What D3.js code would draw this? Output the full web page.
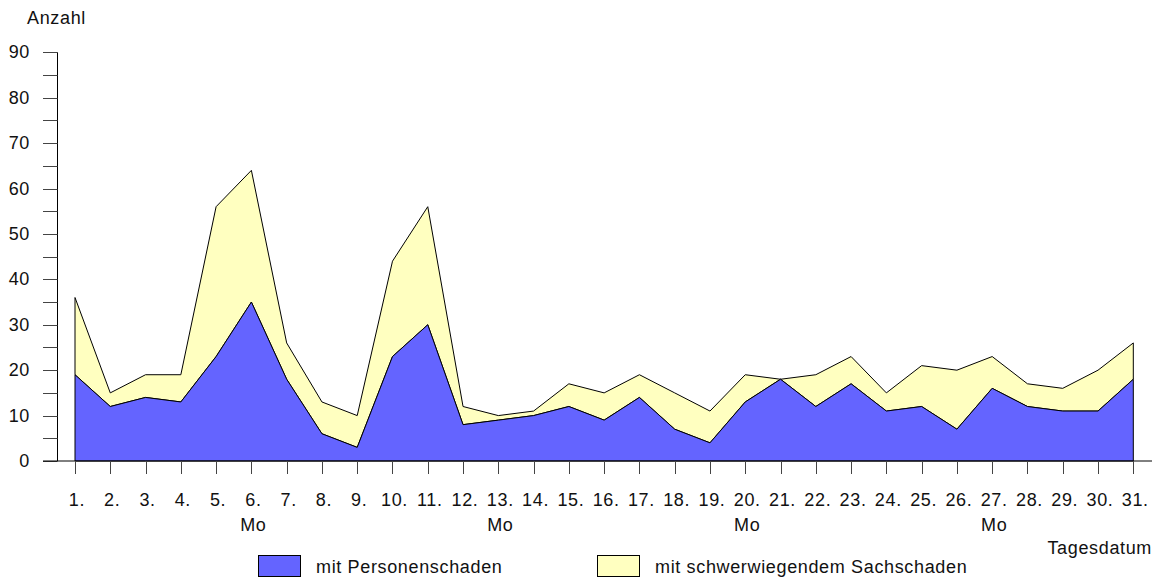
<!DOCTYPE html>
<html>
<head>
<meta charset="utf-8">
<script src="https://cdn.jsdelivr.net/npm/d3@7"></script>
<style>
  body { margin: 0; background: #fff; }
  svg text { font-family: "Liberation Sans", Arial, sans-serif; font-size: 18px; fill: #111; letter-spacing: 0.65px; }
</style>
</head>
<body>
<svg id="chart" width="1158" height="578"></svg>
<script>
// Werte pro Tag
const days = d3.range(1, 32);
const personen = [19, 12, 14, 13, 23, 35, 18, 6, 3, 23, 30, 8, 9, 10, 12, 9, 14, 7, 4, 13, 18, 12, 17, 11, 12, 7, 16, 12, 11, 11, 18];
const sach = [17, 3, 5, 6, 33, 29, 8, 7, 7, 21, 26, 4, 1, 1, 5, 6, 5, 8, 7, 6, 0, 7, 6, 4, 9, 13, 7, 5, 5, 9, 8];
const mondays = [6, 13, 20, 27];
const yTicks = [0, 10, 20, 30, 40, 50, 60, 70, 80, 90];
const seriesNames = ['mit Personenschaden', 'mit schwerwiegendem Sachschaden'];
const colors = ['#6464ff', '#ffffc0'];

const svg = d3.select('#chart');
const x = d3.scaleLinear().domain([1, 31]).range([75, 1133.3]);
const y = d3.scaleLinear().domain([0, 90]).range([461, 52.3]);

const rows = days.map((d, i) => ({ day: d, p: personen[i], s: sach[i] }));
const stacked = d3.stack().keys(['p', 's'])(rows);

const area = d3.area()
  .x(d => x(d.data.day))
  .y0(d => y(d[0]))
  .y1(d => y(d[1]));

// draw top layer first so outlines of lower one sit on top
svg.selectAll('path.layer')
  .data(stacked.slice().reverse())
  .join('path')
  .attr('class', 'layer')
  .attr('d', area)
  .attr('fill', (d, i) => colors[1 - i])
  .attr('stroke', '#000')
  .attr('stroke-width', 1)
  .attr('stroke-linejoin', 'round');

// y axis
svg.append('line').attr('x1', 57.5).attr('x2', 57.5).attr('y1', y(90)).attr('y2', y(0)).attr('stroke', '#000');
svg.selectAll('line.ytick')
  .data(d3.range(0, 95, 5))
  .join('line')
  .attr('x1', 43).attr('x2', 57.5)
  .attr('y1', d => Math.round(y(d)) + 0.5).attr('y2', d => Math.round(y(d)) + 0.5)
  .attr('stroke', '#444');
svg.selectAll('text.ylab')
  .data(yTicks)
  .join('text')
  .attr('x', 30).attr('y', d => y(d) + 6)
  .attr('text-anchor', 'end')
  .text(d => d);
svg.append('text').attr('x', 27).attr('y', 24).text('Anzahl');

// x axis
svg.append('line').attr('x1', 43).attr('x2', 1152).attr('y1', 461).attr('y2', 461).attr('stroke', '#000');
svg.selectAll('line.xtick')
  .data(days)
  .join('line')
  .attr('x1', d => Math.round(x(d)) + 0.5).attr('x2', d => Math.round(x(d)) + 0.5)
  .attr('y1', 461).attr('y2', 474)
  .attr('stroke', '#444');
svg.selectAll('text.xlab')
  .data(days)
  .join('text')
  .attr('x', d => x(d) + 2).attr('y', 506)
  .attr('text-anchor', 'middle')
  .text(d => d + '.');
svg.selectAll('text.mo')
  .data(mondays)
  .join('text')
  .attr('x', d => x(d) + 2).attr('y', 531)
  .attr('text-anchor', 'middle')
  .text('Mo');
svg.append('text').attr('x', 1152).attr('y', 554).attr('text-anchor', 'end').text('Tagesdatum');

// legend
const legX = [258, 597];
seriesNames.forEach((name, i) => {
  svg.append('rect').attr('x', legX[i] + 0.5).attr('y', 555.5).attr('width', 42).attr('height', 21)
    .attr('fill', colors[i]).attr('stroke', '#000');
  svg.append('text').attr('x', legX[i] + 58).attr('y', 573).text(name);
});
</script>
</body>
</html>
